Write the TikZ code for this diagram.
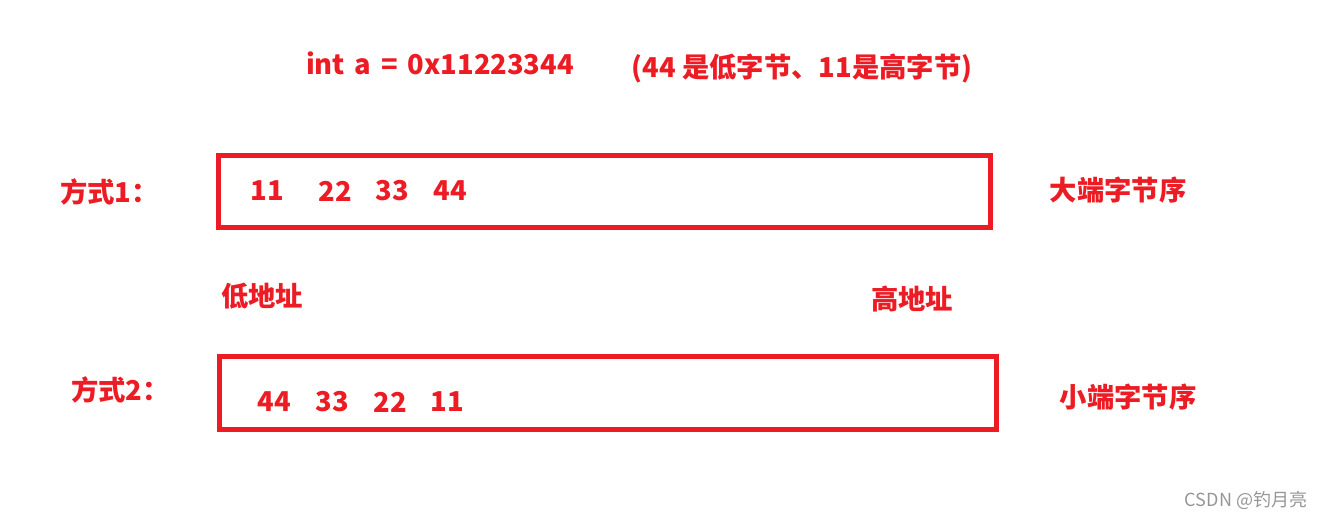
\documentclass[tikz,border=0pt]{standalone}
\usepackage{fontspec}
\setmainfont{Noto Sans CJK SC}
\usepackage{tikz}
\usetikzlibrary{positioning}
\definecolor{markred}{RGB}{237,28,36}
\definecolor{markgrey}{RGB}{150,150,150}

\begin{document}
\begin{tikzpicture}[x=0.75pt,y=-0.75pt]
	  \tikzstyle{redtext}=[text=markred,font=\fontsize{20.5pt}{24pt}\selectfont\bfseries,inner sep=0pt]
	  \tikzstyle{byte}=[redtext]
	  \tikzstyle{memory}=[rectangle,draw=markred,line width=3.75pt,inner sep=0pt]
	  \tikzstyle{watermark}=[text=markgrey,font=\fontsize{13.5pt}{16pt}\selectfont,inner sep=0pt]

	\useasboundingbox (0,0) rectangle (1327,519);

	\node (title_code)[redtext] at (440,63) {\spaceskip=0.36em int a = 0x11223344};
	\node (title_note)[redtext] at (802,68) {(44 是低字节、11是高字节)};

	% big endian row
	\node (way_one)[redtext,anchor=west] at (60,192) {方式1：};
	\node (mem_one)[memory,minimum width=579pt,minimum height=54pt] at (604.5,191.5) {};
	\node (one_a)[byte] at (267.5,191) {11};
	\node (one_b)[byte] at (335,191) {22};
	\node (one_c)[byte] at (392.5,191) {33};
	\node (one_d)[byte] at (450.5,191) {44};
	\node (big_end)[redtext] at (1118,190.5) {大端字节序};

	% addresses
	\node (addr_low)[redtext] at (262,296) {低地址};
	\node (addr_high)[redtext] at (912,299) {高地址};

	% little endian row
	\node (way_two)[redtext,anchor=west] at (71,390) {方式2：};
	\node (mem_two)[memory,minimum width=582.75pt,minimum height=54.75pt] at (608,393) {};
	\node (two_a)[byte] at (274,402) {44};
	\node (two_b)[byte] at (332,402) {33};
	\node (two_c)[byte] at (390,402) {22};
	\node (two_d)[byte] at (447,402) {11};
	\node (little_end)[redtext] at (1128,397.5) {小端字节序};

	\node (water)[watermark] at (1246,500) {CSDN @钓月亮};
\end{tikzpicture}
\end{document}
